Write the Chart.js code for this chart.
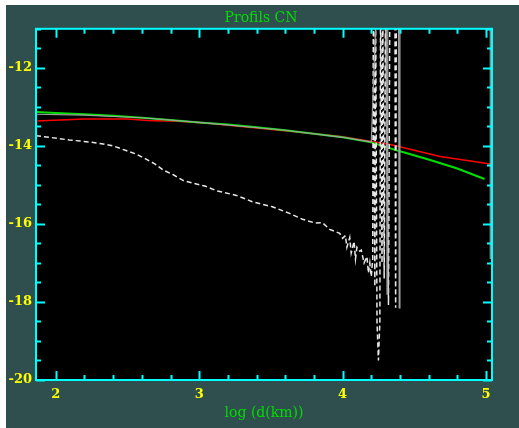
<!DOCTYPE html>
<html>
<head>
<meta charset="utf-8">
<script src="https://cdn.jsdelivr.net/npm/chart.js@4"></script>
<style>
  html, body { margin: 0; padding: 0; background: #ffffff; }
  canvas { display: block; }
</style>
</head>
<body>
<canvas id="profils" width="519" height="428"></canvas>
<script>
// tick labels
const xTickLabels = [2, 3, 4, 5];
const yTickLabels = [-20, -18, -16, -14, -12];

// green profile
const xGreen = [1.86, 2.0, 2.2, 2.4, 2.6, 2.8, 3.0, 3.2, 3.4, 3.6, 3.8, 4.0, 4.2, 4.4, 4.6, 4.8, 4.99];
const yGreen = [-13.13, -13.16, -13.19, -13.23, -13.28, -13.34, -13.40, -13.45, -13.52, -13.60, -13.69, -13.78, -13.91, -14.14, -14.35, -14.58, -14.85];

// red profile
const xRed = [1.86, 2.2, 2.5, 2.64, 2.85, 3.06, 3.4, 3.7, 3.99, 4.34, 4.68, 5.02, 5.04, 5.04];
const yRed = [-13.36, -13.31, -13.31, -13.35, -13.37, -13.42, -13.54, -13.65, -13.76, -13.97, -14.27, -14.46, -14.46, -14.8];

// grey solid profile
const xGrey = [1.86, 2.2, 2.6, 3.0, 3.6, 4.0, 4.2, 4.24, 4.305, 4.31, 4.315, 4.39, 4.395, 4.40, 5.03, 5.03];
const yGrey = [-13.19, -13.21, -13.28, -13.40, -13.60, -13.78, -13.90, -10, -10, -17.8, -10, -10, -18.15, -10, -10, -16.9];

// white dashed profile
const xDash = [1.862, 1.955, 2.095, 2.235, 2.33, 2.40, 2.49, 2.56, 2.63, 2.69, 2.75, 2.82, 2.89, 2.96, 3.04,
  3.12, 3.26, 3.37, 3.51, 3.58, 3.63, 3.72, 3.81, 3.86, 3.91, 3.98,
  4.00, 4.02, 4.03, 4.05, 4.06, 4.08, 4.09, 4.10, 4.12, 4.13, 4.15, 4.17, 4.18, 4.19, 4.20, 4.21,
  4.215, 4.225, 4.23, 4.24, 4.25, 4.26, 4.265, 4.275, 4.28, 4.29, 4.30, 4.32, 4.33, 4.365, 4.37, 4.375, 4.45];
const yDash = [-13.74, -13.78, -13.85, -13.90, -13.95, -14.0, -14.12, -14.21, -14.34, -14.46, -14.62, -14.74, -14.89, -14.96, -15.03,
  -15.15, -15.27, -15.43, -15.56, -15.66, -15.73, -15.88, -15.98, -15.97, -16.14, -16.24,
  -16.37, -16.3, -16.6, -16.35, -16.75, -16.45, -16.9, -16.6, -16.7, -16.67, -17.0, -16.84, -17.26, -17.0, -17.35, -16.9,
  -10, -17.6, -10, -18.5, -19.5, -18.5, -10, -17.0, -10, -17.4, -10, -18.08, -10, -10, -18.15, -10, -10];

const pts = (xs, ys) => xs.map((x, i) => ({ x: x, y: ys[i] }));

const frame = {
  id: 'frame',
  beforeDraw(chart) {
    const { ctx, width, height, chartArea: a } = chart;
    ctx.save();
    ctx.fillStyle = '#ffffff';
    ctx.fillRect(0, 0, width, height);
    ctx.fillStyle = '#2f4f4f';
    ctx.fillRect(6, 5, width - 6, height - 5);
    ctx.fillStyle = '#000000';
    ctx.fillRect(a.left, a.top, a.right - a.left, a.bottom - a.top);
    ctx.restore();
  },
  afterDraw(chart) {
    const { ctx, chartArea: a, scales: { x, y } } = chart;
    ctx.save();
    ctx.strokeStyle = '#00ffff';
    ctx.lineWidth = 2;
    ctx.beginPath();
    // x ticks every 0.2, long ones at integers
    for (let k = 9; k <= 25; k++) {
      const v = k / 5;
      if (v < x.min || v > x.max) continue;
      const px = Math.round(x.getPixelForValue(v)) + 0.5;
      const len = k % 5 === 0 ? 9 : 5;
      ctx.moveTo(px, a.bottom); ctx.lineTo(px, a.bottom - len);
      ctx.moveTo(px, a.top); ctx.lineTo(px, a.top + len);
    }
    // y ticks every 0.5, long ones at even values
    for (let k = -40; k <= -22; k++) {
      const v = k / 2;
      const py = Math.round(y.getPixelForValue(v)) + 0.5;
      const len = k % 4 === 0 ? 9 : 5;
      ctx.moveTo(a.left, py); ctx.lineTo(a.left + len, py);
      ctx.moveTo(a.right, py); ctx.lineTo(a.right - len, py);
    }
    ctx.stroke();
    ctx.strokeRect(a.left, a.top, a.right - a.left, a.bottom - a.top);
    ctx.restore();
  }
};

const labelFont = { family: 'DejaVu Serif', size: 13, weight: 'bold' };
const titleFont = { family: 'DejaVu Serif', size: 14, weight: 'normal' };

new Chart(document.getElementById('profils'), {
  type: 'line',
  data: {
    datasets: [
      { label: 'gris', data: pts(xGrey, yGrey), borderColor: '#a0a0a0', borderWidth: 1.2, pointRadius: 0, tension: 0 },
      { label: 'pointillé', data: pts(xDash, yDash), borderColor: '#e8e8e8', borderWidth: 1.5, borderDash: [5, 3], pointRadius: 0, tension: 0 },
      { label: 'vert', data: pts(xGreen, yGreen), borderColor: '#00e000', borderWidth: 2, pointRadius: 0, tension: 0 },
      { label: 'rouge', data: pts(xRed, yRed), borderColor: '#ff0000', borderWidth: 1.5, pointRadius: 0, tension: 0 }
    ]
  },
  plugins: [frame],
  options: {
    responsive: false,
    animation: false,
    layout: { padding: { left: 3, right: 0, top: 0, bottom: 0 } },
    plugins: {
      legend: { display: false },
      tooltip: { enabled: false },
      title: {
        display: true,
        text: 'Profils CN',
        color: '#00dd00',
        font: titleFont,
        padding: { top: 10, bottom: 2 }
      }
    },
    scales: {
      x: {
        type: 'linear',
        min: 1.862,
        max: 5.042,
        grid: { display: false, drawTicks: false },
        border: { display: false },
        afterBuildTicks: s => { s.ticks = xTickLabels.map(v => ({ value: v })); },
        afterFit: s => { s.height = 48; },
        ticks: { color: '#ffff00', font: labelFont, padding: 7, maxRotation: 0, autoSkip: false },
        title: {
          display: true,
          text: 'log (d(km))',
          color: '#00dd00',
          font: titleFont,
          padding: { top: 0, bottom: 6 }
        }
      },
      y: {
        min: -20,
        max: -11,
        grid: { display: false, drawTicks: false },
        border: { display: false },
        afterBuildTicks: s => { s.ticks = yTickLabels.map(v => ({ value: v })); },
        afterFit: s => { s.width = 33; },
        ticks: { color: '#ffff00', font: labelFont, padding: 4, autoSkip: false }
      },
      yRight: {
        position: 'right',
        min: -20,
        max: -11,
        grid: { display: false, drawTicks: false },
        border: { display: false },
        ticks: { display: false },
        afterFit: s => { s.width = 27; }
      }
    }
  }
});
</script>
</body>
</html>
